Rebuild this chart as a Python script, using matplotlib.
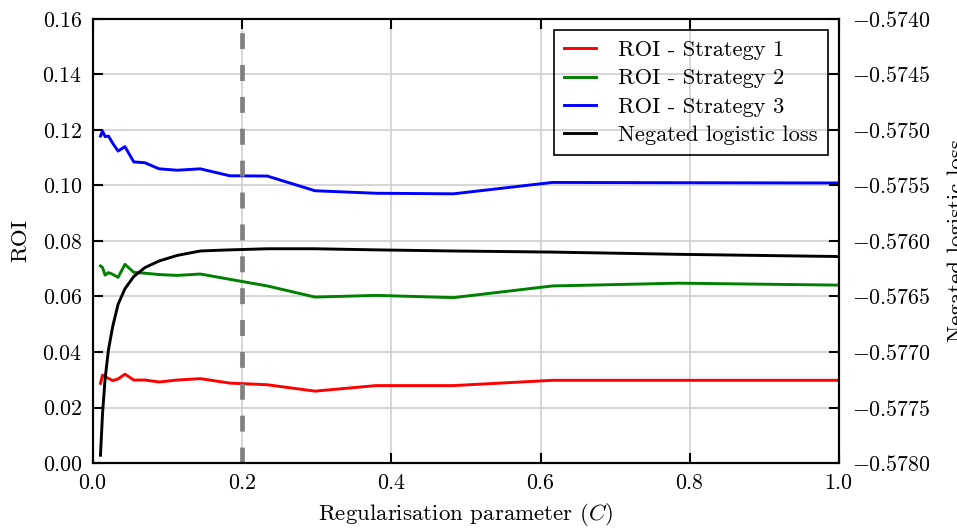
import matplotlib
matplotlib.use("Agg")
import matplotlib.pyplot as plt

plt.rcParams["font.family"] = "cmr10"
plt.rcParams["mathtext.fontset"] = "cm"
plt.rcParams["axes.formatter.use_mathtext"] = True
plt.rcParams["font.size"] = 10.5

# regularisation parameter values
C = [0.0100, 0.0127, 0.0162, 0.0207, 0.0264, 0.0336, 0.0428, 0.0546, 0.0695, 0.0886,
     0.1129, 0.1438, 0.1833, 0.2336, 0.2976, 0.3793, 0.4833, 0.6158, 0.7848, 1.0000]

roi_1 = [0.0287, 0.0317, 0.0311, 0.0305, 0.0297, 0.0303, 0.0320, 0.0299, 0.0299, 0.0292,
         0.0299, 0.0304, 0.0288, 0.0282, 0.0259, 0.0279, 0.0279, 0.0298, 0.0298, 0.0298]
roi_2 = [0.0710, 0.0705, 0.0677, 0.0686, 0.0680, 0.0669, 0.0716, 0.0687, 0.0684, 0.0679,
         0.0676, 0.0681, 0.0662, 0.0638, 0.0598, 0.0604, 0.0596, 0.0638, 0.0648, 0.0641]
roi_3 = [0.1178, 0.1196, 0.1176, 0.1178, 0.1152, 0.1124, 0.1140, 0.1085, 0.1082, 0.1060,
         0.1055, 0.1060, 0.1035, 0.1034, 0.0981, 0.0972, 0.0970, 0.1011, 0.1010, 0.1009]
neg_loss = [-0.57793, -0.57756, -0.57724, -0.57698, -0.57677, -0.57657, -0.57643, -0.57632,
            -0.57624, -0.57618, -0.57613, -0.57609, -0.57608, -0.57607, -0.57607, -0.57608,
            -0.57609, -0.57610, -0.57612, -0.57614]

C_chosen = 0.2

fig = plt.figure(figsize=(957 / 150, 530 / 150), dpi=150)
ax1 = fig.add_axes([0.0972, 0.1264, 0.7795, 0.8378])

ax1.grid(True, color="#d0d0d0", lw=0.8, zorder=0)
ax1.set_axisbelow(True)

l1, = ax1.plot(C, roi_1, color="#ff0000", lw=1.4, label="ROI - Strategy 1")
l2, = ax1.plot(C, roi_2, color="#008000", lw=1.4, label="ROI - Strategy 2")
l3, = ax1.plot(C, roi_3, color="#0000ff", lw=1.4, label="ROI - Strategy 3")
ax1.axvline(C_chosen, color="grey", lw=2.25, ls=(0, (3.4, 3.4)))

ax1.set_xlim(0, 1)
ax1.set_ylim(0, 0.16)
ax1.set_xlabel("Regularisation parameter ($C$)", fontsize=11, labelpad=4)
ax1.set_ylabel("ROI", fontsize=11, labelpad=6)
ax1.tick_params(direction="in", top=True, length=5, width=1, pad=5)

# 右轴：负的逻辑损失
ax2 = ax1.twinx()
l4, = ax2.plot(C, neg_loss, color="black", lw=1.4, label="Negated logistic loss")
ax2.set_ylim(-0.578, -0.574)
ax2.ticklabel_format(axis="y", useOffset=False)
ax2.set_ylabel("Negated logistic loss", fontsize=11, labelpad=8)
ax2.tick_params(direction="in", length=5, width=1, pad=6)

for ax in (ax1, ax2):
    for s in ax.spines.values():
        s.set_linewidth(1.0)

leg = ax2.legend(handles=[l1, l2, l3, l4], loc="upper right", fancybox=False,
                 fontsize=10.8, handlelength=1.4, handletextpad=1.0, borderpad=0.45,
                 labelspacing=0.38)
frame = leg.get_frame()
frame.set_alpha(None)
frame.set_facecolor((1, 1, 1, 0))
frame.set_edgecolor("black")
frame.set_linewidth(0.8)

fig.savefig("out.png", dpi=150)
